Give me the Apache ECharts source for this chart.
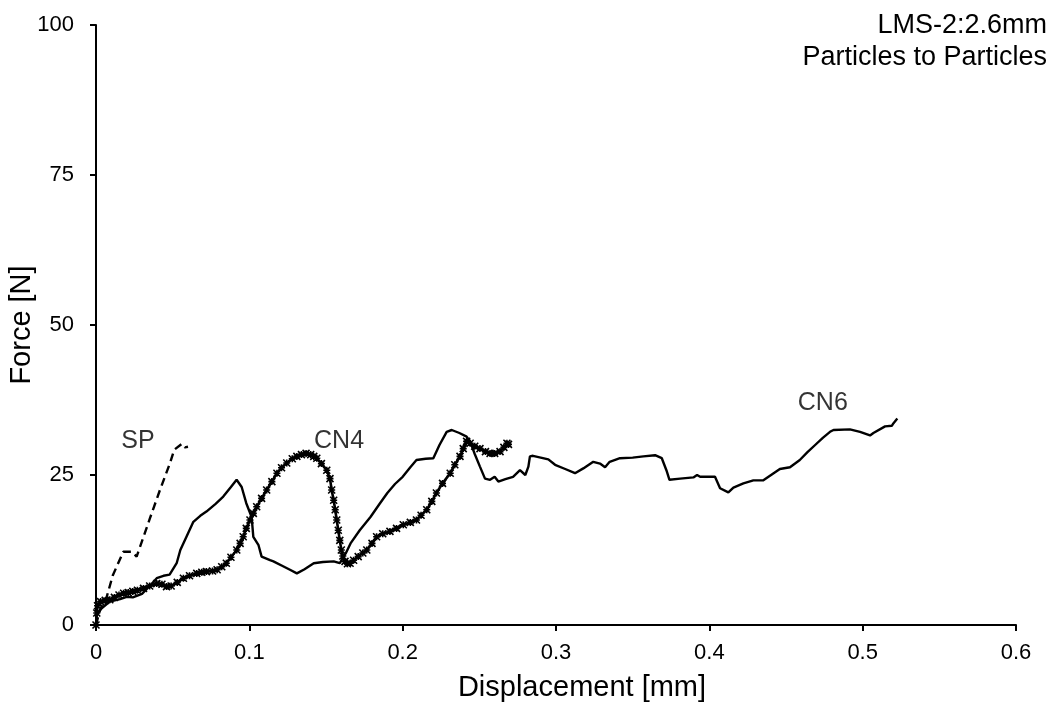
<!DOCTYPE html>
<html>
<head>
<meta charset="utf-8">
<script src="https://cdn.jsdelivr.net/npm/echarts@6/dist/echarts.min.js"></script>
<style>
  html, body { margin: 0; padding: 0; background: #fff; }
  #chart { width: 1054px; height: 706px; }
</style>
</head>
<body>
<div id="chart"></div>
<script>
// Force–displacement curves, LMS-2 (2.6 mm), particle-to-particle contact
const xTicks = [0, 0.1, 0.2, 0.3, 0.4, 0.5, 0.6];
const yTicks = [0, 25, 50, 75, 100];
const headerLines = ['LMS-2:2.6mm', 'Particles to Particles'];

// SP: displacement [mm], force [N]
const spData = [
  [0, 0], [0.0026, 2.5], [0.007, 4.7], [0.011, 8.3], [0.0178, 12.2], [0.0233, 12.2],
  [0.0265, 11.4], [0.0352, 17.8], [0.0417, 22.5], [0.0483, 27], [0.051, 29.2],
  [0.056, 30.2], [0.058, 29.6], [0.060, 29.7]
];

// CN4: displacement [mm], force [N]
const cn4Data = [
  [0, 0], [0.0005, 2], [0.001, 3.2], [0.003, 3.9], [0.006, 4.1], [0.009, 4.2], [0.012, 4.6],
  [0.015, 5.0], [0.018, 5.3], [0.021, 5.4], [0.024, 5.6], [0.027, 5.8], [0.031, 6.1],
  [0.035, 6.5], [0.0396, 6.9], [0.043, 6.8], [0.046, 6.4], [0.049, 6.5], [0.053, 7.1],
  [0.057, 7.8], [0.061, 8.2], [0.0657, 8.6], [0.069, 8.8], [0.072, 8.9], [0.076, 9.0],
  [0.079, 9.2], [0.082, 9.7], [0.085, 10.3], [0.088, 11.3], [0.0918, 12.5], [0.094, 13.6],
  [0.096, 14.7], [0.098, 16.1], [0.1004, 17.5], [0.1026, 18.6], [0.1048, 19.7], [0.108, 21.1],
  [0.1113, 22.5], [0.1147, 23.9], [0.118, 25.3], [0.121, 26.2], [0.1244, 27], [0.128, 27.7],
  [0.131, 28.1], [0.134, 28.4], [0.137, 28.6], [0.140, 28.4], [0.142, 28.1], [0.144, 27.8],
  [0.147, 26.9], [0.1505, 25.8], [0.1526, 24.4], [0.1537, 22.5], [0.155, 20.8], [0.156, 19.2],
  [0.157, 17.5], [0.158, 15.8], [0.159, 14.1], [0.160, 12.5], [0.161, 11.5], [0.1624, 10.6],
  [0.164, 10.2], [0.1657, 10.3], [0.168, 10.8], [0.171, 11.4], [0.174, 12.0], [0.1766, 12.5],
  [0.180, 13.6], [0.183, 14.7], [0.187, 15.2], [0.1917, 15.6], [0.196, 16.1], [0.2004, 16.7],
  [0.205, 17.1], [0.209, 17.5], [0.212, 18.3], [0.2157, 19.2], [0.219, 20.6], [0.222, 22],
  [0.226, 23.6], [0.231, 25.3], [0.234, 26.7], [0.2374, 28.1], [0.2395, 29.4], [0.2417, 30.6],
  [0.244, 30.3], [0.247, 29.8], [0.2504, 29.4], [0.254, 28.9], [0.257, 28.6], [0.260, 28.6],
  [0.2635, 28.9], [0.266, 29.6], [0.268, 30.3], [0.269, 30.1]
];

// CN6: displacement [mm], force [N]
const cn6Data = [
  [0, 0], [0.0004, 1.7], [0.0037, 2.8], [0.009, 3.9], [0.0157, 4.3], [0.02, 4.7], [0.024, 4.6],
  [0.03, 5.2], [0.035, 6.5], [0.0396, 7.8], [0.044, 8.2], [0.048, 8.4], [0.0526, 10.3],
  [0.055, 12.5], [0.059, 14.7], [0.0635, 17.2], [0.068, 18.2], [0.072, 18.9], [0.078, 20.2],
  [0.083, 21.4], [0.088, 23], [0.0917, 24.2], [0.093, 24.4], [0.095, 23], [0.098, 20.3],
  [0.1015, 18], [0.1026, 14.7], [0.106, 13.3], [0.108, 11.4], [0.1135, 10.8], [0.1157, 10.6],
  [0.122, 9.8], [0.1265, 9.2], [0.131, 8.6], [0.136, 9.3], [0.142, 10.3], [0.148, 10.5],
  [0.155, 10.6], [0.159, 10.3], [0.163, 12], [0.166, 13.6], [0.172, 15.8], [0.179, 18],
  [0.185, 20.2], [0.19, 22], [0.195, 23.5], [0.2, 24.7], [0.205, 26.3], [0.209, 27.5],
  [0.215, 27.7], [0.22, 27.8], [0.224, 30], [0.2287, 32.2], [0.232, 32.5], [0.237, 32],
  [0.2417, 31.4], [0.244, 30.6], [0.247, 28.5], [0.2504, 26.4], [0.2537, 24.4], [0.257, 24.2],
  [0.26, 24.7], [0.2624, 23.9], [0.267, 24.3], [0.272, 24.7], [0.2765, 25.8], [0.28, 25],
  [0.282, 26.4], [0.283, 28.1], [0.285, 28.2], [0.295, 27.6], [0.2994, 26.7], [0.306, 26],
  [0.3124, 25.3], [0.3178, 26.1], [0.3243, 27.2], [0.3287, 26.9], [0.332, 26.3], [0.335, 27.2],
  [0.3417, 27.8], [0.35, 27.9], [0.357, 28.1], [0.3646, 28.3], [0.369, 27.8], [0.372, 25.8],
  [0.374, 24.2], [0.381, 24.4], [0.3896, 24.6], [0.392, 25], [0.394, 24.7], [0.4037, 24.7],
  [0.407, 22.8], [0.4124, 22.1], [0.4157, 22.9], [0.4222, 23.6], [0.4287, 24.1], [0.435, 24.1],
  [0.446, 26], [0.4526, 26.3], [0.459, 27.5], [0.464, 28.8], [0.469, 30], [0.474, 31.2],
  [0.4787, 32.2], [0.481, 32.5], [0.4917, 32.6], [0.4983, 32.2], [0.5048, 31.6], [0.507, 32],
  [0.5146, 33.1], [0.519, 33.2], [0.52, 33.6], [0.5226, 34.4]
];

// Curve name labels, placed in data coordinates
const curveLabels = [
  { text: 'SP', at: [0.0274, 30.7] },
  { text: 'CN4', at: [0.1585, 30.7] },
  { text: 'CN6', at: [0.474, 37] }
];

const FONT = '"Liberation Sans", Arial, sans-serif';
const chart = echarts.init(document.getElementById('chart'), null, { renderer: 'canvas' });

const crossSymbol = 'path://M0,0L10,10M10,0L0,10M5,0L5,10M0,5L10,5';

chart.setOption({
  animation: false,
  backgroundColor: '#ffffff',
  graphic: headerLines.map((t, i) => ({
    type: 'text',
    right: 7,
    top: 12 + i * 32,
    style: {
      text: t,
      fontFamily: FONT, fontSize: 27, fill: '#000',
      textAlign: 'right'
    }
  })),
  grid: {
    left: 96, right: 38, top: 25, bottom: 81,
    containLabel: false,
    outerBoundsMode: 'none'
  },
  xAxis: {
    type: 'value',
    min: 0, max: 0.6, interval: 0.1,
    name: 'Displacement [mm]',
    nameLocation: 'middle',
    nameGap: 48,
    nameMoveOverlap: false,
    nameTextStyle: {
      fontFamily: FONT, fontSize: 29, color: '#000',
      padding: [0, 0, 0, 52]
    },
    axisLine: { show: true, onZero: false, lineStyle: { color: '#000', width: 2 } },
    axisTick: { show: true, inside: false, length: 6, lineStyle: { color: '#000', width: 2 } },
    axisLabel: {
      fontFamily: FONT, fontSize: 22, color: '#000', margin: 17,
      formatter: v => xTicks.includes(Math.round(v * 10) / 10) ? String(Math.round(v * 10) / 10) : ''
    },
    splitLine: { show: false }
  },
  yAxis: {
    type: 'value',
    min: 0, max: 100, interval: 25,
    name: 'Force [N]',
    nameLocation: 'middle',
    nameGap: 60,
    nameMoveOverlap: false,
    nameRotate: 90,
    nameTextStyle: { fontFamily: FONT, fontSize: 29, color: '#000' },
    axisLine: { show: true, lineStyle: { color: '#000', width: 2 } },
    axisTick: { show: true, inside: false, length: 6, lineStyle: { color: '#000', width: 2 } },
    axisLabel: {
      fontFamily: FONT, fontSize: 22, color: '#000', margin: 22,
      formatter: v => yTicks.includes(v) ? String(v) : ''
    },
    splitLine: { show: false }
  },
  series: [
    {
      name: 'CN6',
      type: 'line',
      data: cn6Data,
      showSymbol: false,
      symbol: 'none',
      lineStyle: { color: '#000', width: 2.4 },
      z: 2
    },
    {
      name: 'SP',
      type: 'line',
      data: spData,
      showSymbol: false,
      symbol: 'none',
      lineStyle: { color: '#000', width: 2.4, type: [8, 5] },
      z: 3
    },
    {
      name: 'CN4',
      type: 'line',
      data: cn4Data,
      symbol: crossSymbol,
      symbolSize: 7,
      showAllSymbol: true,
      itemStyle: { color: 'none', borderColor: '#000', borderWidth: 1.6 },
      lineStyle: { color: '#000', width: 2.6 },
      z: 4
    },
    {
      name: 'labels',
      type: 'scatter',
      data: curveLabels.map(l => ({ value: l.at, name: l.text })),
      symbolSize: 0,
      silent: true,
      label: {
        show: true,
        position: 'inside',
        formatter: p => p.name,
        fontFamily: FONT, fontSize: 25, color: '#000',
        textBorderWidth: 0
      },
      z: 5
    }
  ]
});
</script>
</body>
</html>
